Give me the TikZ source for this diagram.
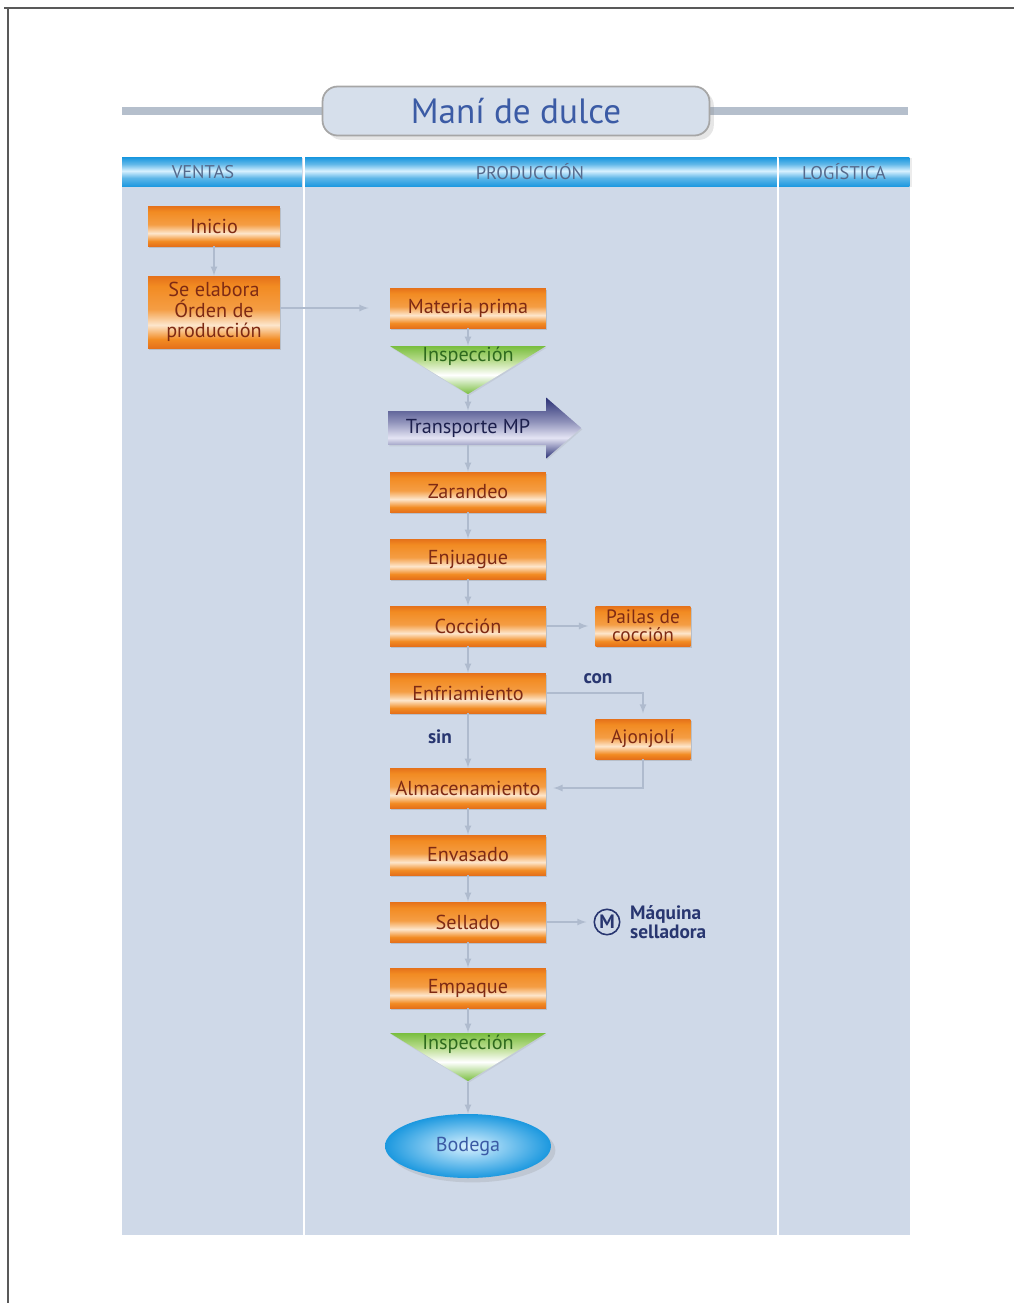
\documentclass[tikz,border=0pt]{standalone}
\usepackage{fontspec}
\setmainfont{PT Sans}
\usetikzlibrary{shapes.geometric,shapes.arrows,shadows,positioning}

\definecolor{fondo}{HTML}{CFD9E8}
\definecolor{naranja}{HTML}{F28B22}
\definecolor{naranjaosc}{HTML}{E5711A}
\definecolor{naranjaclaro}{HTML}{FDE6CC}
\definecolor{textonar}{HTML}{7E2A14}
\definecolor{flechagris}{HTML}{AFBBCE}
\definecolor{verde}{HTML}{79BE3F}
\definecolor{verdeclaro}{HTML}{B9DC8E}
\definecolor{textover}{HTML}{2E6A1E}
\definecolor{marino}{HTML}{2A3075}
\definecolor{lavanda}{HTML}{E4E4F4}
\definecolor{textomar}{HTML}{1C1F4D}
\definecolor{azultit}{HTML}{3B5BA5}
\definecolor{cian}{HTML}{1B98DF}
\definecolor{cianclaro}{HTML}{D8F1FF}
\definecolor{grislinea}{HTML}{B5BFCC}
\definecolor{grisencab}{HTML}{566A8C}
\definecolor{azuloscuro}{HTML}{283670}

\pgfdeclareverticalshading{cajanar}{100bp}{color(0bp)=(naranjaosc); color(25bp)=(naranjaosc); color(31bp)=(naranja); color(41bp)=(naranjaclaro); color(52bp)=(naranja!80!naranjaclaro); color(68bp)=(naranja); color(75bp)=(naranjaosc); color(100bp)=(naranjaosc)}
\pgfdeclareverticalshading{verdetri}{100bp}{color(0bp)=(verde); color(25bp)=(verde); color(45bp)=(white); color(60bp)=(verdeclaro); color(75bp)=(verde); color(100bp)=(verde)}
\pgfdeclareverticalshading{flechamar}{100bp}{color(0bp)=(marino); color(25bp)=(marino); color(42bp)=(lavanda); color(55bp)=(marino!45!lavanda); color(75bp)=(marino); color(100bp)=(marino)}
\pgfdeclareverticalshading{encab}{100bp}{color(0bp)=(cian); color(25bp)=(cian); color(40bp)=(cian!70); color(52bp)=(cianclaro); color(64bp)=(cian!70); color(75bp)=(cian); color(100bp)=(cian)}

\newcommand\fcaja{\fontsize{11.5}{11.5}\selectfont}
\newcommand\fchica{\fontsize{11}{10}\selectfont}
\newcommand\fmaquina{\bfseries\fontsize{11}{9.4}\selectfont}

\tikzset{
  caja/.style={rectangle, shading=cajanar, minimum width=3.12cm, minimum height=0.8cm,
    text=textonar, font=\fcaja, inner sep=1pt, align=center,
    drop shadow={opacity=0.3, shadow xshift=0.8pt, shadow yshift=-1.2pt}},
  cajaven/.style={caja, minimum width=2.64cm},
  cajachica/.style={caja, minimum width=1.9cm, font=\fchica},
  inspec/.style={isosceles triangle, isosceles triangle stretches, shape border rotate=-90,
    minimum width=3.12cm, minimum height=0.96cm, inner sep=0pt, shading=verdetri,
    drop shadow={opacity=0.15, shadow xshift=0.6pt, shadow yshift=-0.8pt},
    label={[anchor=center, label distance=-0.22cm, text=textover, font=\fcaja]north:#1}},
  carril/.style={rectangle, shading=encab, minimum height=0.58cm, inner sep=0pt,
    text=grisencab, font=\fontsize{10.5}{10.5}\selectfont},
  flecha/.style={draw=flechagris, line width=0.8pt, ->, >=latex},
  etiq/.style={text=azuloscuro, font=\bfseries\fontsize{11}{11}\selectfont}
}

\begin{document}
\begin{tikzpicture}[x=0.02cm, y=-0.02cm]
  \useasboundingbox (0,0) rectangle (1014,1303);
  \draw[black!65, line width=0.8pt] (4,8) -- (1014,8);
  \draw[black!65, line width=0.8pt] (8,8) -- (8,1303);

  % titulo
  \draw[grislinea, line width=4pt] (122,111) -- (908,111);
  \node[draw=black!35, fill=fondo!85!white, line width=1pt, rounded corners=0.3cm,
    minimum width=7.74cm, minimum height=0.98cm, text=azultit,
    font=\fontsize{20}{20}\selectfont, drop shadow={opacity=0.2}] (titulo) at (516,111) {Maní de dulce};

  % carriles
  \fill[fondo] (122,158) rectangle (910,1235);
  \node[carril, minimum width=3.6cm] (ventas) at (212,172) {\hspace*{-0.36cm}VENTAS};
  \node[carril, minimum width=9.44cm] (produccion) at (541,172) {\hspace*{-0.44cm}PRODUCCIÓN};
  \node[carril, minimum width=2.62cm, drop shadow={opacity=0.15, shadow xshift=1.5pt, shadow yshift=-0.5pt}] (logistica) at (844,172) {LOGÍSTICA};
  \draw[white, line width=1.3pt] (304,158) -- (304,1235);
  \draw[white, line width=1.3pt] (778,158) -- (778,1235);

  % ventas
  \node[cajaven] (inicio) at (214,226) {Inicio};
  \node[cajaven, minimum height=1.44cm] (orden) at (214,312) {Se elabora\\Órden de\\producción};

  % produccion
  \node[caja] (materia) at (468,308) {Materia prima};
  \node[inspec=Inspección, anchor=apex] (insp1) at (468,395) {};
  \node[single arrow, shading=flechamar, minimum height=3.86cm, minimum width=1.22cm,
    single arrow head extend=0.18cm, single arrow tip angle=82, inner sep=1pt,
    text=textomar, font=\fcaja, drop shadow={opacity=0.15, shadow xshift=0.6pt, shadow yshift=-0.8pt}] (transp) at (475,428) {\hspace*{-0.28cm}Transporte MP};
  \node[caja] (zarandeo) at (468,492) {Zarandeo};
  \node[caja] (enjuague) at (468,559) {Enjuague};
  \node[caja] (coccion) at (468,626) {Cocción};
  \node[cajachica] (pailas) at (643,626) {Pailas de\\cocción};
  \node[caja] (enfri) at (468,693) {Enfriamiento};
  \node[cajachica] (ajonjoli) at (643,739) {Ajonjolí};
  \node[caja] (almac) at (468,788) {Almacenamiento};
  \node[caja] (envasado) at (468,855) {Envasado};
  \node[caja] (sellado) at (468,922) {Sellado};
  \node[draw=azuloscuro, circle, line width=0.9pt, inner sep=1pt, minimum size=0.46cm,
    text=azuloscuro, font=\bfseries\fontsize{11}{11}\selectfont] (motor) at (607,922) {M};
  \node[etiq, align=left, font=\fmaquina, anchor=west] (maquina) at (624,922) {Máquina\\selladora};
  \node[caja] (empaque) at (468,988) {Empaque};
  \node[inspec=Inspección, anchor=apex] (insp2) at (468,1082) {};
  \node[ellipse, minimum width=3.32cm, minimum height=1.28cm, inner color=cianclaro,
    outer color=cian, text=azultit, font=\fcaja, drop shadow={opacity=0.2}] (bodega) at (468,1146) {Bodega};

  \node[etiq] (con) at (598,679) {con};
  \node[etiq] (sin) at (440,737) {sin};

  % conectores
  \draw[flecha] (inicio) -- (orden);
  \draw[flecha, shorten >=12pt] (orden.east |- materia) -- (materia);
  \draw[flecha] (materia) -- (materia.south |- insp1.north);
  \draw[flecha] (insp1.apex) -- (insp1.apex |- transp.north);
  \draw[flecha] (zarandeo.north |- transp.south) -- (zarandeo);
  \draw[flecha] (zarandeo) -- (enjuague);
  \draw[flecha] (enjuague) -- (coccion);
  \draw[flecha, shorten >=4pt] (coccion) -- (pailas);
  \draw[flecha] (coccion) -- (enfri);
  \draw[flecha, shorten >=3pt] (enfri.east) -| (ajonjoli.north);
  \draw[flecha] (enfri) -- (almac);
  \draw[flecha, shorten >=4pt] (ajonjoli.south) |- (almac.east);
  \draw[flecha] (almac) -- (envasado);
  \draw[flecha] (envasado) -- (sellado);
  \draw[flecha, shorten >=4pt] (sellado) -- (motor);
  \draw[flecha] (sellado) -- (empaque);
  \draw[flecha] (empaque) -- (empaque.south |- insp2.north);
  \draw[flecha] (insp2.apex) -- (bodega);
\end{tikzpicture}
\end{document}
